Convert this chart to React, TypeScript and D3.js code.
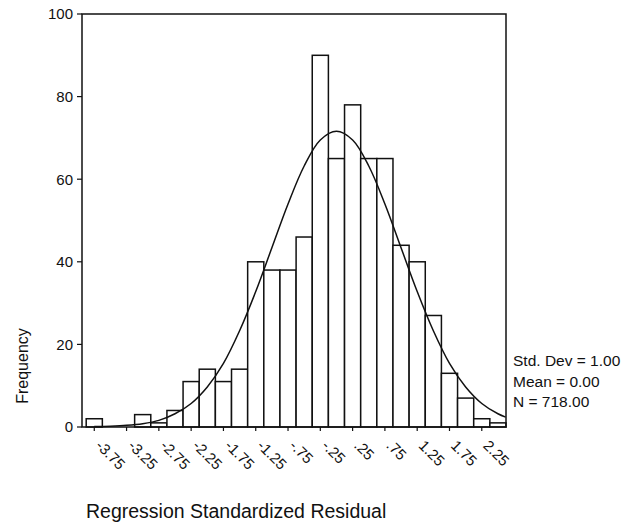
import * as d3 from "d3";

// histogram bins (midpoints) and counts
const binMids = [
  -3.75, -3.5, -3.25, -3, -2.75, -2.5, -2.25, -2, -1.75, -1.5, -1.25, -1, -0.75,
  -0.5, -0.25, 0, 0.25, 0.5, 0.75, 1, 1.25, 1.5, 1.75, 2, 2.25, 2.5,
];
const counts = [
  2, 0, 0, 3, 1, 4, 11, 14, 11, 14, 40, 38, 38, 46, 90, 65, 78, 65, 65, 44, 40,
  27, 13, 7, 2, 1,
];
const binWidth = 0.25;

// normal curve
const curveX = [
  -3.75, -3.5, -3.25, -3, -2.75, -2.5, -2.25, -2, -1.75, -1.5, -1.25, -1, -0.75,
  -0.5, -0.25, 0, 0.25, 0.5, 0.75, 1, 1.25, 1.5, 1.75, 2, 2.25, 2.5, 2.62,
];
const curveY = [
  0.1, 0.2, 0.4, 0.8, 1.6, 3.2, 5.7, 9.7, 15.4, 23.3, 32.8, 43.4, 54, 63.2,
  69.5, 71.6, 69.5, 63.2, 54, 43.4, 32.8, 23.3, 15.4, 9.7, 5.7, 3.2, 2.4,
];

const xTicks = [-3.75, -3.25, -2.75, -2.25, -1.75, -1.25, -0.75, -0.25, 0.25, 0.75, 1.25, 1.75, 2.25];
const xTickLabels = ["-3.75", "-3.25", "-2.75", "-2.25", "-1.75", "-1.25", "-.75", "-.25", ".25", ".75", "1.25", "1.75", "2.25"];
const yTicks = [0, 20, 40, 60, 80, 100];
const xDomain = [-3.94, 2.625];
const yDomain = [0, 100];

const stats = ["Std. Dev = 1.00", "Mean = 0.00", "N = 718.00"];
const xTitle = "Regression Standardized Residual";
const yTitle = "Frequency";

export default function App() {
  const width = 631;
  const height = 526;
  const left = 82;
  const right = 506;
  const top = 14;
  const bottom = 427;
  const font = "Arial, 'Liberation Sans', Helvetica, sans-serif";

  const x = d3.scaleLinear(xDomain, [left, right]);
  const y = d3.scaleLinear(yDomain, [bottom, top]);

  const line = d3
    .line<number>((d, i) => x(curveX[i]), (d) => y(d))
    .curve(d3.curveCatmullRom);

  return (
    <svg
      width={width}
      height={height}
      style={{ position: "absolute", left: 0, top: 0, background: "#fff" }}
      fontFamily={font}
    >
      <rect width={width} height={height} fill="#fff" />
      {/* bars */}
      <g fill="#fff" stroke="#111" strokeWidth={1.5}>
        {counts.map((c, i) =>
          c > 0 ? (
            <rect
              key={i}
              x={x(binMids[i] - binWidth / 2)}
              y={y(c)}
              width={x(binMids[i] + binWidth / 2) - x(binMids[i] - binWidth / 2)}
              height={y(0) - y(c)}
            />
          ) : null
        )}
      </g>
      {/* normal curve */}
      <path d={line(curveY)!} fill="none" stroke="#111" strokeWidth={1.5} />
      {/* frame */}
      <rect
        x={left}
        y={top}
        width={right - left}
        height={bottom - top}
        fill="none"
        stroke="#111"
        strokeWidth={1.5}
      />
      {/* y axis */}
      <g fill="#111" fontSize={15}>
        {yTicks.map((t) => (
          <g key={t}>
            <line x1={left - 5} x2={left} y1={y(t)} y2={y(t)} stroke="#111" strokeWidth={1.2} />
            <text x={left - 9} y={y(t)} dy="0.36em" textAnchor="end">
              {t}
            </text>
          </g>
        ))}
      </g>
      {/* x axis */}
      <g fill="#111" fontSize={15}>
        {xTicks.map((t, i) => (
          <g key={t}>
            <line x1={x(t)} x2={x(t)} y1={bottom} y2={bottom + 4} stroke="#111" strokeWidth={1.2} />
            <text
              transform={`translate(${x(t) + 8},${bottom + 12}) rotate(45)`}
              dy="0.7em"
            >
              {xTickLabels[i]}
            </text>
          </g>
        ))}
      </g>
      <text
        transform={`translate(28,${366}) rotate(-90)`}
        textAnchor="middle"
        fontSize={16}
        fill="#111"
      >
        {yTitle}
      </text>
      <text x={86} y={518} fontSize={19.5} fill="#111">
        {xTitle}
      </text>
      <g fontSize={15.5} fill="#111">
        {stats.map((s, i) => (
          <text key={s} x={513} y={366 + i * 20.5}>
            {s}
          </text>
        ))}
      </g>
    </svg>
  );
}
